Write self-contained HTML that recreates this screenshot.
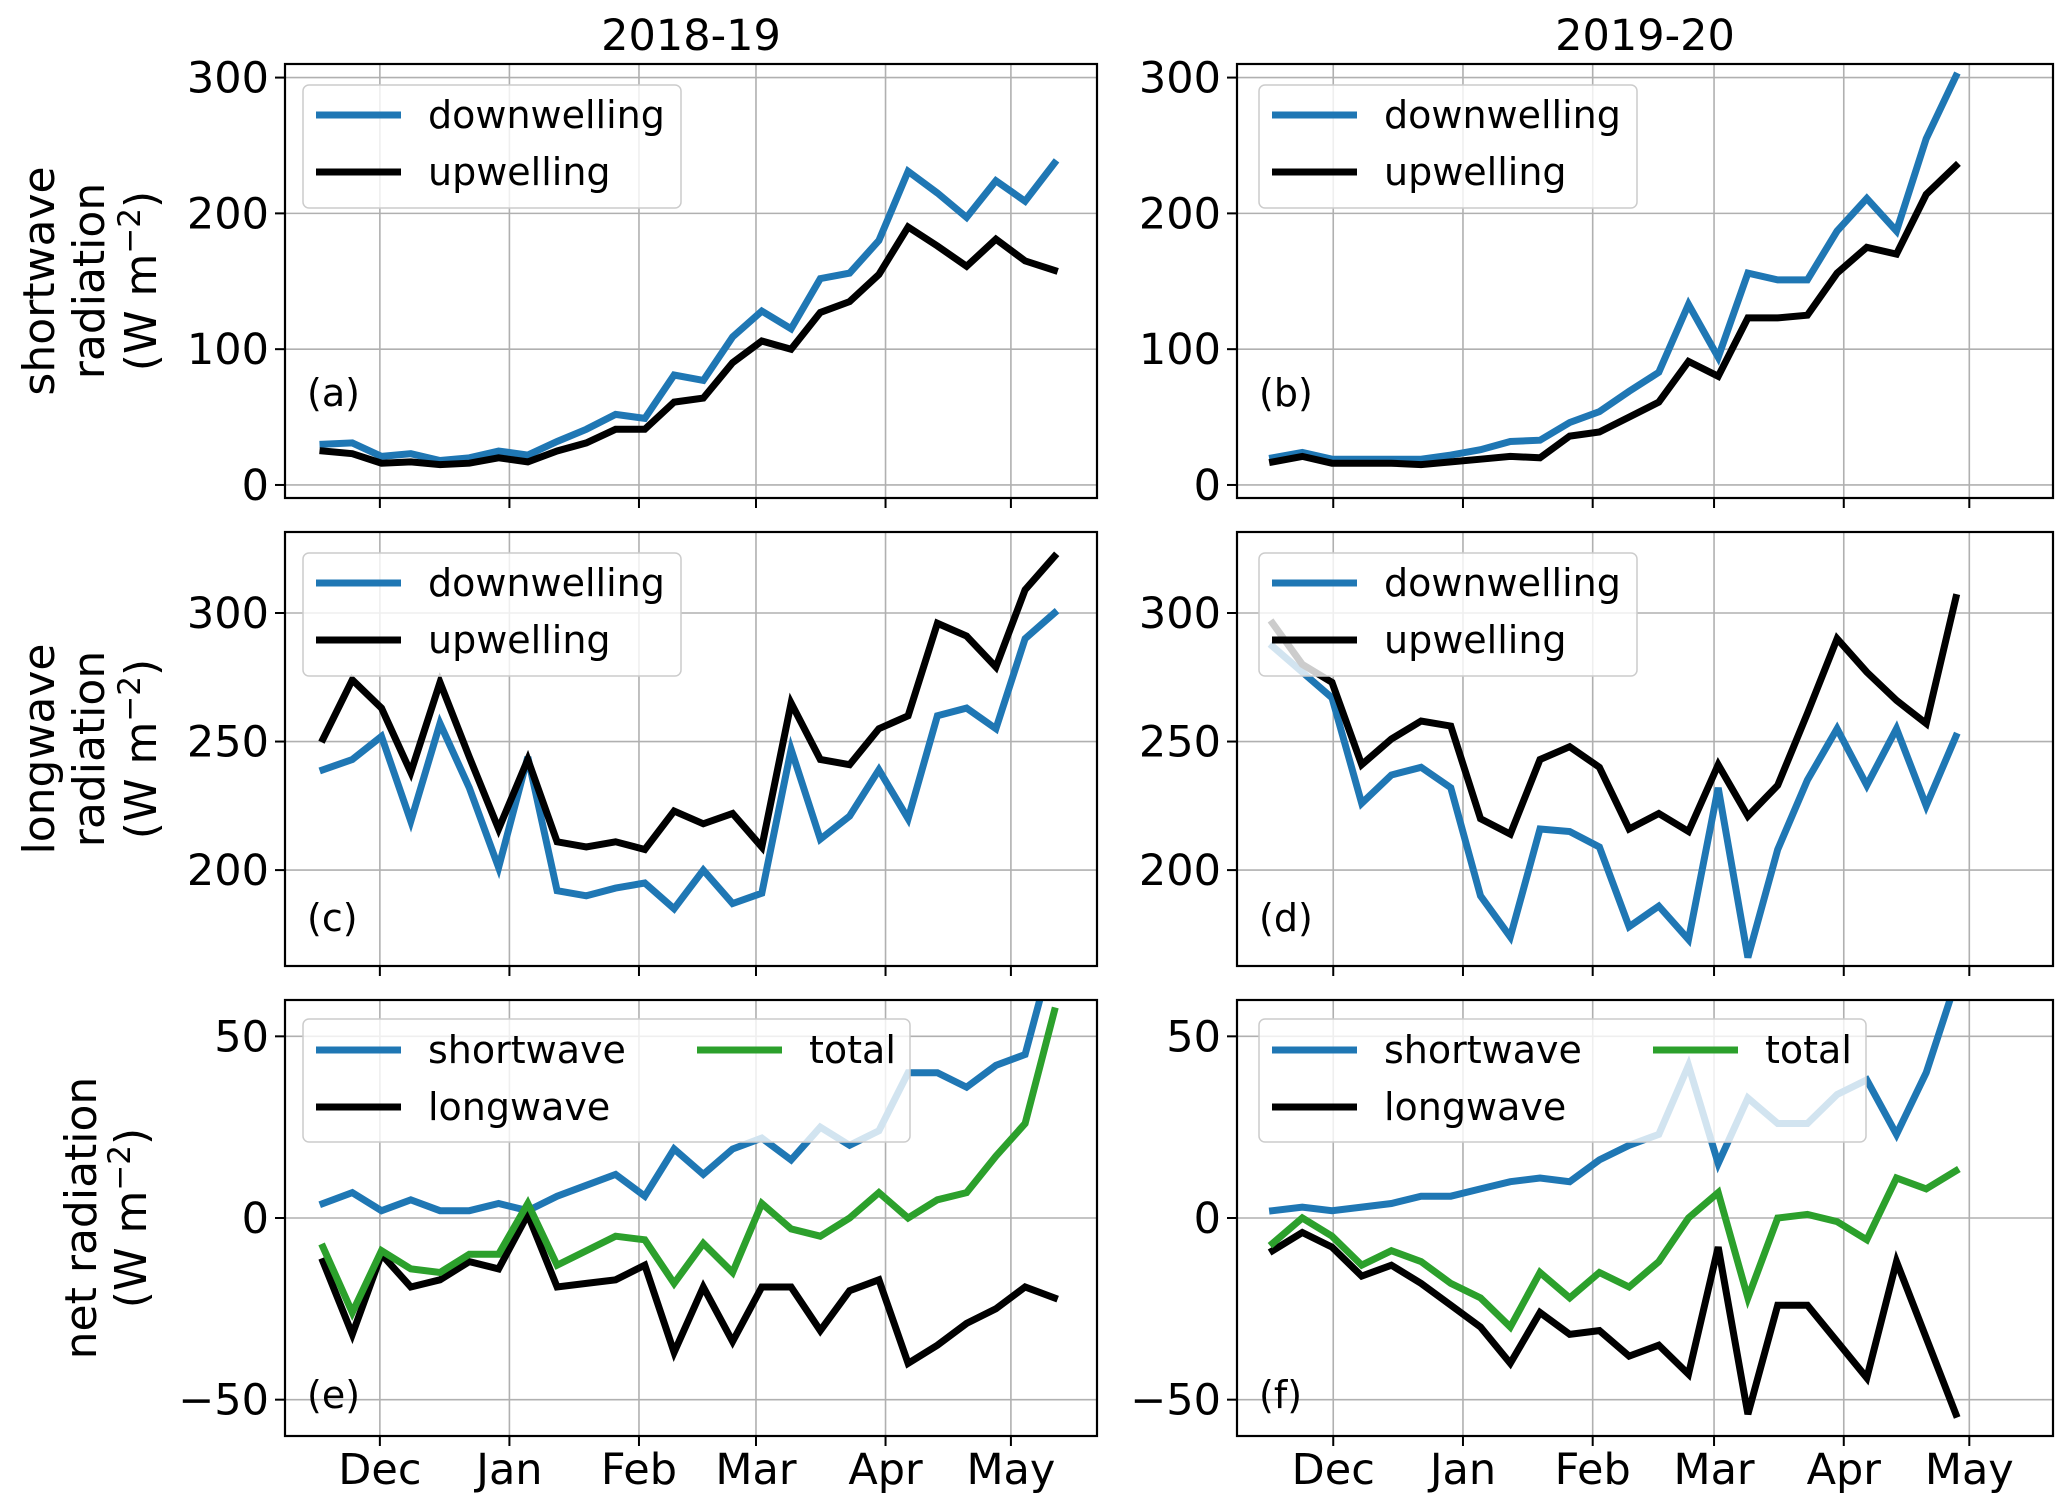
<!DOCTYPE html>
<html><head><meta charset="utf-8"><style>
html,body{margin:0;padding:0;background:#fff}
svg{display:block}
text{font-family:"DejaVu Sans","Liberation Sans",sans-serif;fill:#000}
</style></head><body>
<svg id="fig" width="2067" height="1512" viewBox="0 0 2067 1512" xmlns="http://www.w3.org/2000/svg"></svg>
<script>
// ---- data ----
const monthLabels = ["Dec","Jan","Feb","Mar","Apr","May"];
const monthDaysLeft = [0,31,62,90,121,151];
const monthDaysRight = [0,31,62,91,122,152];
const aDown = [30,31,21,23,18,20,25,22,32,41,52,49,81,77,109,128,115,152,156,180,231,215,197,224,209,237];
const aUp = [25,23,16,17,15,16,20,17,25,31,41,41,61,64,90,106,100,127,135,155,190,176,161,181,165,158];
const bDown = [20,24,19,19,19,19,22,26,32,33,46,54,69,83,133,94,156,151,151,187,211,187,255,301];
const bUp = [17,21,16,16,16,15,17,19,21,20,36,39,50,61,91,80,123,123,125,156,175,170,214,235];
const cDown = [239,243,252,219,257,232,201,244,192,190,193,195,185,200,187,191,247,212,221,239,220,260,263,255,290,300];
const cUp = [251,274,263,238,273,244,216,243,211,209,211,208,223,218,222,209,265,243,241,255,260,296,291,279,309,322];
const dDown = [287,277,267,226,237,240,232,190,174,216,215,209,178,186,173,232,166,208,235,255,233,255,225,252];
const dUp = [296,280,273,241,251,258,256,220,214,243,248,240,216,222,215,241,221,233,261,290,277,266,257,306];
const eSw = [4,7,2,5,2,2,4,2,6,9,12,6,19,12,19,22,16,25,20,24,40,40,36,42,45,75];
const eLw = [-12,-32,-10,-19,-17,-12,-14,1,-19,-18,-17,-13,-37,-19,-34,-19,-19,-31,-20,-17,-40,-35,-29,-25,-19,-22];
const eTot = [-8,-26,-9,-14,-15,-10,-10,4,-13,-9,-5,-6,-18,-7,-15,4,-3,-5,0,7,0,5,7,17,26,57];
const fSw = [2,3,2,3,4,6,6,8,10,11,10,16,20,23,42,15,33,26,26,34,38,23,40,65];
const fLw = [-9,-4,-8,-16,-13,-18,-24,-30,-40,-26,-32,-31,-38,-35,-43,-8,-54,-24,-24,-34,-44,-12,-33,-54];
const fTot = [-7,0,-5,-13,-9,-12,-18,-22,-30,-15,-22,-15,-19,-12,0,7,-22,0,1,-1,-6,11,8,13];
const ticksSW = [0,100,200,300];
const ticksLW = [200,250,300];
const ticksNet = [-50,0,50];
const tickLabelsNet = ["\u221250","0","50"];

const NS="http://www.w3.org/2000/svg";
const svg=document.getElementById('fig');
function mk(tag,attrs,parent){const e=document.createElementNS(NS,tag);for(const k in attrs)e.setAttribute(k,attrs[k]);(parent||svg).appendChild(e);return e;}
const BLUE="#1f77b4",BLACK="#000000",GREEN="#2ca02c";

function panel(o){
  const g=mk('g',{});
  
  
  const X=d=>o.x0+(d-o.d0)/(o.d1-o.d0)*(o.x1-o.x0);
  const Y=v=>o.y1-(v-o.v0)/(o.v1-o.v0)*(o.y1-o.y0);
  const clipId='clip-'+o.id;
  const cp=mk('clipPath',{id:clipId},g);mk('rect',{x:o.x0,y:o.y0,width:o.x1-o.x0,height:o.y1-o.y0},cp);
  o.months.forEach((m,i)=>{const x=X(m);
    const gl=mk('line',{x1:x,x2:x,y1:o.y0,y2:o.y1,stroke:'#b0b0b0','stroke-width':1.6},g);
    
    mk('line',{x1:x,x2:x,y1:o.y1,y2:o.y1+10,stroke:'#000','stroke-width':2},g);
    if(o.xlabels){const t=mk('text',{x:x,y:1484,'font-size':43,'text-anchor':'middle'},g);t.textContent=monthLabels[i];
      }
  });
  o.ticks.forEach((v,i)=>{const y=Y(v);
    const gl=mk('line',{x1:o.x0,x2:o.x1,y1:y,y2:y,stroke:'#b0b0b0','stroke-width':1.6},g);
    
    mk('line',{x1:o.x0-10,x2:o.x0,y1:y,y2:y,stroke:'#000','stroke-width':2},g);
    const t=mk('text',{x:o.x0-16,y:y+15,'font-size':43,'text-anchor':'end'},g);
    t.textContent=o.tickLabels?o.tickLabels[i]:String(v);
    
  });
  const lg=mk('g',{'clip-path':'url(#'+clipId+')'},g);
  o.series.forEach(s=>{
    const pts=s.data.map((v,i)=>X(o.start+o.step*i).toFixed(1)+','+Y(v).toFixed(1)).join(' ');
    const pl=mk('polyline',{points:pts,fill:'none',stroke:s.color,'stroke-width':7,'stroke-linejoin':'miter','stroke-linecap':'square'},lg);
    
  });
  const L=o.legend;
  const lgd=mk('g',{},g);
  
  mk('rect',{x:L.x,y:L.y,width:L.w,height:L.h,rx:6,fill:'#fff','fill-opacity':0.8,stroke:'#cccccc','stroke-width':1.5},lgd);
  L.items.forEach(it=>{
    mk('line',{x1:it.x,x2:it.x+85,y1:it.y,y2:it.y,stroke:it.color,'stroke-width':7},lgd);
    const t=mk('text',{x:it.x+112,y:it.y+13,'font-size':38},lgd);t.textContent=it.label;
    
  });
  const pl=mk('text',{x:o.x0+22,y:o.y1-o.lab,'font-size':38},g);pl.textContent='('+o.id+')';
  
  mk('rect',{x:o.x0,y:o.y0,width:o.x1-o.x0,height:o.y1-o.y0,fill:'none',stroke:'#000','stroke-width':2.2},g);
}

const L={x0:285,x1:1097,d0:-22.7,d1:171.6,start:-13.6,step:7,months:monthDaysLeft};
const R={x0:1237,x1:2053,d0:-23,d1:172,start:-14.5,step:7.1,months:monthDaysRight};
const rows=[{y0:64,y1:498,v0:-9.6,v1:310,ticks:ticksSW,lab:92},{y0:532,y1:966,v0:162.7,v1:331.5,ticks:ticksLW,lab:35},{y0:1000,y1:1436,v0:-60,v1:60,ticks:ticksNet,tickLabels:tickLabelsNet,lab:28}];
function leg2(x,y,w){return {x:x,y:y,w:w,h:123,items:[{x:x+13,y:y+30,color:BLUE,label:'downwelling'},{x:x+13,y:y+87,color:BLACK,label:'upwelling'}]};}
function leg3(x,y){return {x:x,y:y,w:607,h:123,items:[{x:x+13,y:y+31,color:BLUE,label:'shortwave'},{x:x+13,y:y+88,color:BLACK,label:'longwave'},{x:x+394,y:y+31,color:GREEN,label:'total'}]};}

panel(Object.assign({},L,rows[0],{id:'a',series:[{name:'sw-down',data:aDown,color:BLUE},{name:'sw-up',data:aUp,color:BLACK}],legend:leg2(303,85,378)}));
panel(Object.assign({},R,rows[0],{id:'b',series:[{name:'sw-down',data:bDown,color:BLUE},{name:'sw-up',data:bUp,color:BLACK}],legend:leg2(1259,85,378)}));
panel(Object.assign({},L,rows[1],{id:'c',series:[{name:'lw-down',data:cDown,color:BLUE},{name:'lw-up',data:cUp,color:BLACK}],legend:leg2(303,553,378)}));
panel(Object.assign({},R,rows[1],{id:'d',series:[{name:'lw-down',data:dDown,color:BLUE},{name:'lw-up',data:dUp,color:BLACK}],legend:leg2(1259,553,378)}));
panel(Object.assign({},L,rows[2],{id:'e',xlabels:true,series:[{name:'net-sw',data:eSw,color:BLUE},{name:'net-lw',data:eLw,color:BLACK},{name:'net-total',data:eTot,color:GREEN}],legend:leg3(303,1019)}));
panel(Object.assign({},R,rows[2],{id:'f',xlabels:true,series:[{name:'net-sw',data:fSw,color:BLUE},{name:'net-lw',data:fLw,color:BLACK},{name:'net-total',data:fTot,color:GREEN}],legend:leg3(1259,1019)}));

function txt(x,y,s,size,name,rot){const t=mk('text',{x:x,y:y,'font-size':size,'text-anchor':'middle'});t.textContent=s;
  if(rot)t.setAttribute('transform','rotate(-90 '+x+' '+y+')');
  return t;}
txt(691,50,'2018-19',43,'column-title-left');
txt(1645,50,'2019-20',43,'column-title-right');
function ylab(lines,xs,cy,name){lines.forEach((l,i)=>{const t=txt(xs[i],cy,'',44,name,true);
  if(l==='W'){t.textContent='(W m';const s=mk('tspan',{dy:-16,'font-size':31},t);s.textContent='\u22122';const c=mk('tspan',{dy:16},t);c.textContent=')';}
  else t.textContent=l;});}
ylab(['shortwave','radiation','W'],[54,104,156],281,'y-axis-title-shortwave');
ylab(['longwave','radiation','W'],[54,104,156],749,'y-axis-title-longwave');
ylab(['net radiation','W'],[96,146],1218,'y-axis-title-net');
</script>
</body></html>
